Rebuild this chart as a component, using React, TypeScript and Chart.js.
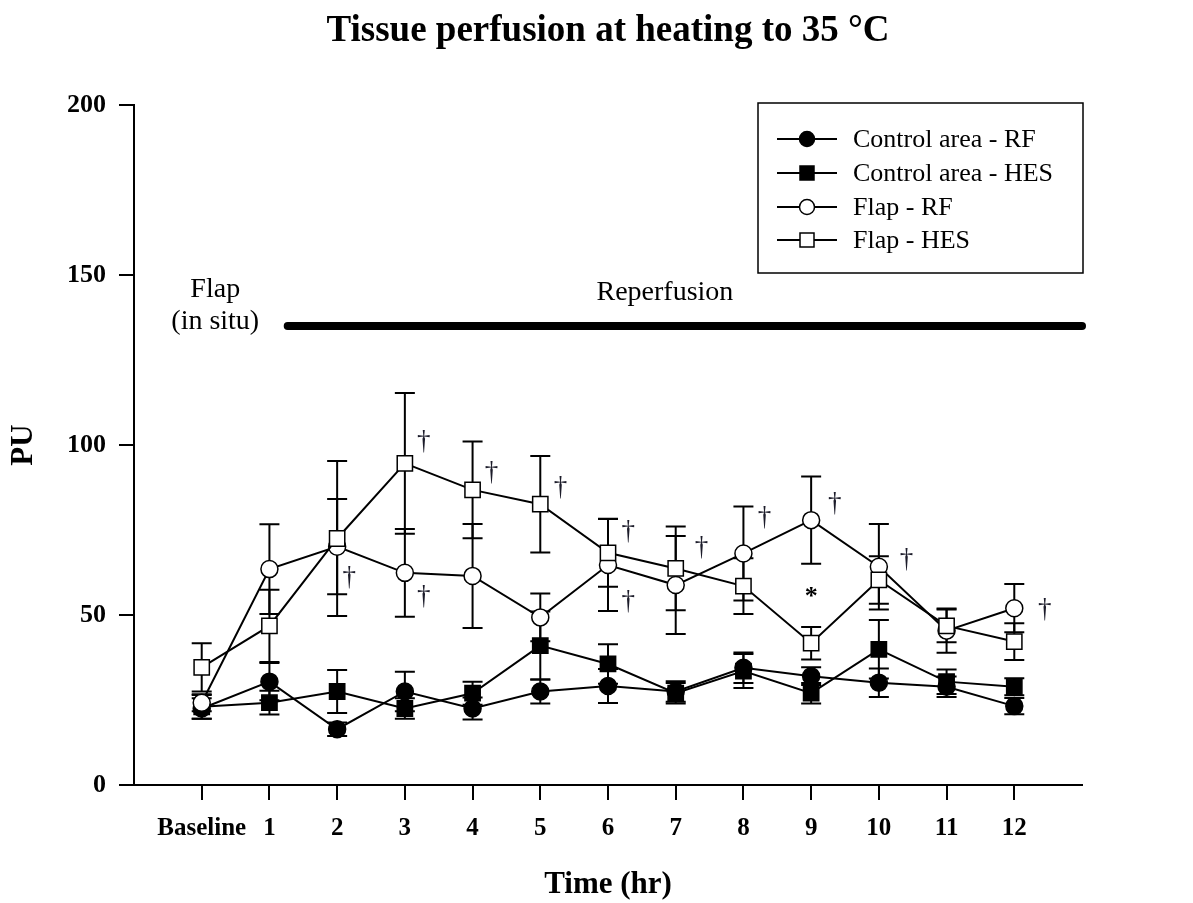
import React, { useEffect, useRef } from 'react';
import { Chart, registerables } from 'chart.js';

Chart.register(...registerables);

// ---- data ----
const xHours = [0, 1, 2, 3, 4, 5, 6, 7, 8, 9, 10, 11, 12];
const xLabels = ['Baseline', '1', '2', '3', '4', '5', '6', '7', '8', '9', '10', '11', '12'];
const yTicks = [0, 50, 100, 150, 200];

const seriesNames = ['Control area - RF', 'Control area - HES', 'Flap - RF', 'Flap - HES'];

const controlRF = [22.5, 30.4, 16.4, 27.5, 22.5, 27.5, 29.1, 27.5, 34.5, 32.0, 30.1, 28.9, 23.2];
const controlRFErr = [3, 5.5, 2, 5.8, 3.2, 3.5, 5, 3, 4.5, 2.6, 4.2, 3, 2.4];

const controlHES = [23, 24.2, 27.5, 22.5, 27, 41, 35.6, 27, 33.5, 27, 39.9, 30.4, 28.9];
const controlHESErr = [3.5, 3.5, 6.3, 3, 3.4, 10, 5.8, 3, 5, 3, 8.6, 3.6, 2.5];

const flapRF = [24.2, 63.5, 70.1, 62.4, 61.5, 49.3, 64.7, 58.8, 68.1, 77.9, 64.2, 45.4, 52];
const flapRFErr = [2.5, 13.2, 14, 12.9, 15.3, 7, 13.5, 14.4, 13.8, 12.8, 12.6, 6.5, 7.1];

const flapHES = [34.6, 46.8, 72.5, 94.6, 86.8, 82.6, 68.3, 63.7, 58.5, 41.7, 60.3, 46.8, 42.2];
const flapHESErr = [7.1, 10.6, 22.8, 20.7, 14.2, 14.2, 10, 12.3, 8.2, 4.8, 7, 4.8, 5.4];

// significance marks (†) placed in data coordinates
const daggerX = [2.18, 3.28, 3.28, 4.28, 5.3, 6.3, 6.3, 7.38, 8.31, 9.35, 10.41, 12.45];
const daggerY = [60.9, 100.9, 55.3, 91.8, 87.4, 74.4, 53.8, 69.7, 78.5, 82.6, 66.2, 51.5];
const asteriskX = [9];
const asteriskY = [56.8];

// reperfusion bar
const reperfusionStart = 1.27;
const reperfusionEnd = 13;
const reperfusionLevel = 135;

const FONT = '"Liberation Serif", "Times New Roman", serif';

export default function App() {
  const ref = useRef<HTMLCanvasElement>(null);

  useEffect(() => {
    const canvas = ref.current;
    if (!canvas) return;
    const errs = [controlRFErr, controlHESErr, flapRFErr, flapHESErr];
    const vals = [controlRF, controlHES, flapRF, flapHES];
    const fills = ['#000', '#000', '#fff', '#fff'];
    const styles = ['circle', 'rect', 'circle', 'rect'];
    const orders = [3, 2, 1, 0];

    const errorBars = {
      id: 'errorBars',
      beforeDatasetsDraw(chart: any) {
        const { ctx } = chart;
        const xs = chart.scales.x;
        const ys = chart.scales.y;
        ctx.save();
        ctx.strokeStyle = '#000';
        ctx.lineWidth = 2;
        chart.data.datasets.forEach((ds: any, di: number) => {
          const e = errs[di];
          ds.data.forEach((p: any, i: number) => {
            const px = xs.getPixelForValue(p.x);
            const top = ys.getPixelForValue(p.y + e[i]);
            const bot = ys.getPixelForValue(p.y - e[i]);
            ctx.beginPath();
            ctx.moveTo(px, top);
            ctx.lineTo(px, bot);
            ctx.moveTo(px - 10, top);
            ctx.lineTo(px + 10, top);
            ctx.moveTo(px - 10, bot);
            ctx.lineTo(px + 10, bot);
            ctx.stroke();
          });
        });
        ctx.restore();
      },
    };

    const decorations = {
      id: 'decorations',
      afterDraw(chart: any) {
        const { ctx, chartArea } = chart;
        const xs = chart.scales.x;
        const ys = chart.scales.y;
        ctx.save();
        ctx.fillStyle = '#000';
        ctx.textAlign = 'center';
        ctx.textBaseline = 'middle';

        // title
        const cx = (chartArea.left + chartArea.right) / 2;
        ctx.font = `bold 37px ${FONT}`;
        ctx.fillText('Tissue perfusion at heating to 35 °C', cx, 31);

        // axis titles
        ctx.font = `bold 31px ${FONT}`;
        ctx.fillText('Time (hr)', cx, 885);
        ctx.save();
        ctx.translate(24, (chartArea.top + chartArea.bottom) / 2);
        ctx.rotate(-Math.PI / 2);
        ctx.fillText('PU', 0, 0);
        ctx.restore();

        // reperfusion bar
        ctx.strokeStyle = '#000';
        ctx.lineWidth = 8;
        ctx.lineCap = 'round';
        ctx.beginPath();
        ctx.moveTo(xs.getPixelForValue(reperfusionStart), ys.getPixelForValue(reperfusionLevel));
        ctx.lineTo(xs.getPixelForValue(reperfusionEnd), ys.getPixelForValue(reperfusionLevel));
        ctx.stroke();
        ctx.lineCap = 'butt';

        ctx.font = `28px ${FONT}`;
        ctx.fillText('Reperfusion', xs.getPixelForValue(6.84), ys.getPixelForValue(144.7));
        ctx.fillText('Flap', xs.getPixelForValue(0.2), ys.getPixelForValue(145.6));
        ctx.fillText('(in situ)', xs.getPixelForValue(0.2), ys.getPixelForValue(136.2));

        // daggers
        ctx.fillStyle = '#1c1c2a';
        ctx.font = `27px ${FONT}`;
        daggerX.forEach((x, i) => {
          ctx.fillText('†', xs.getPixelForValue(x), ys.getPixelForValue(daggerY[i]));
        });
        ctx.fillStyle = '#000';
        ctx.font = `bold 26px ${FONT}`;
        asteriskX.forEach((x, i) => {
          ctx.fillText('*', xs.getPixelForValue(x), ys.getPixelForValue(asteriskY[i]) + 5);
        });

        // legend
        const bx = 758, by = 103, bw = 325, bh = 170;
        ctx.lineWidth = 1.5;
        ctx.strokeStyle = '#000';
        ctx.strokeRect(bx, by, bw, bh);
        const rows = [139, 173, 207, 240];
        ctx.font = `26px ${FONT}`;
        ctx.textAlign = 'left';
        seriesNames.forEach((name, i) => {
          const ry = rows[i];
          ctx.lineWidth = 2;
          ctx.beginPath();
          ctx.moveTo(777, ry);
          ctx.lineTo(837, ry);
          ctx.stroke();
          ctx.fillStyle = fills[i];
          ctx.lineWidth = 1.5;
          ctx.beginPath();
          if (styles[i] === 'circle') {
            ctx.arc(807, ry, 7.5, 0, Math.PI * 2);
          } else {
            ctx.rect(800, ry - 7, 14, 14);
          }
          ctx.fill();
          ctx.stroke();
          ctx.fillStyle = '#000';
          ctx.fillText(name, 853, ry + 1);
        });
        ctx.restore();
      },
    };

    const chart = new Chart(canvas, {
      type: 'line',
      data: {
        datasets: seriesNames.map((name, di) => ({
          label: name,
          data: xHours.map((x, i) => ({ x, y: vals[di][i] })),
          borderColor: '#000',
          borderWidth: 2,
          tension: 0,
          pointStyle: styles[di] as any,
          pointRadius: styles[di] === 'circle' ? 8.5 : 10.8,
          pointBackgroundColor: fills[di],
          pointBorderColor: '#000',
          pointBorderWidth: 1.5,
          order: orders[di],
        })),
      },
      options: {
        animation: false,
        responsive: true,
        maintainAspectRatio: false,
        layout: { padding: { top: 105, right: 111, left: 0, bottom: 0 } },
        plugins: {
          legend: { display: false },
          title: { display: false },
          tooltip: { enabled: false },
        },
        scales: {
          x: {
            type: 'linear',
            min: -1,
            max: 13,
            afterBuildTicks: (scale: any) => {
              scale.ticks = xHours.map((v) => ({ value: v }));
            },
            afterFit: (scale: any) => {
              scale.height = 118;
            },
            ticks: {
              autoSkip: false,
              maxRotation: 0,
              padding: 14,
              color: '#000',
              font: { family: FONT, size: 25, weight: 'bold' },
              callback: (v: any) => {
                const idx = xHours.indexOf(Number(v));
                return idx >= 0 ? xLabels[idx] : '';
              },
            },
            grid: {
              drawOnChartArea: false,
              drawTicks: true,
              tickLength: 15,
              color: '#000',
              lineWidth: 2,
            },
            border: { display: true, color: '#000', width: 2 },
          },
          y: {
            type: 'linear',
            min: 0,
            max: 200,
            afterBuildTicks: (scale: any) => {
              scale.ticks = yTicks.map((v) => ({ value: v }));
            },
            afterFit: (scale: any) => {
              scale.width = 134;
            },
            ticks: {
              padding: 13,
              color: '#000',
              font: { family: FONT, size: 26, weight: 'bold' },
            },
            grid: {
              drawOnChartArea: false,
              drawTicks: true,
              tickLength: 15,
              color: '#000',
              lineWidth: 2,
            },
            border: { display: true, color: '#000', width: 2 },
          },
        },
      },
      plugins: [errorBars, decorations],
    });

    return () => chart.destroy();
  }, []);

  return (
    <div style={{ position: 'fixed', left: 0, top: 0, width: 1193, height: 903, background: '#fff' }}>
      <canvas ref={ref} />
    </div>
  );
}
